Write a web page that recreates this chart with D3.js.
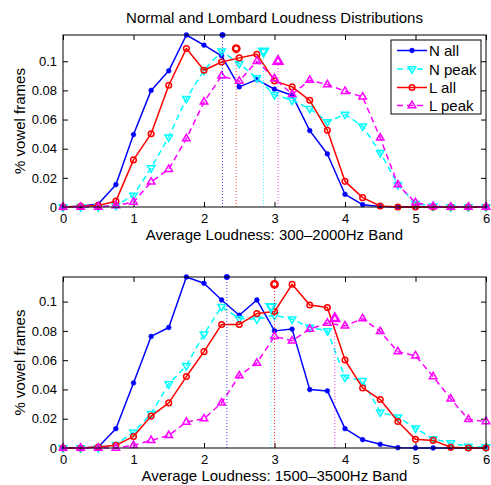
<!DOCTYPE html>
<html>
<head>
<meta charset="utf-8">
<script src="https://cdn.jsdelivr.net/npm/d3@7"></script>
<style>
  html, body { margin: 0; padding: 0; background: #fff; }
  svg { display: block; font-family: "Liberation Sans", Arial, Helvetica, sans-serif; }
</style>
</head>
<body>
<svg id="chart" width="491" height="485"></svg>
<script>
// ---------- data ----------
const loudness = [0, 0.25, 0.5, 0.75, 1, 1.25, 1.5, 1.75, 2, 2.25, 2.5, 2.75, 3, 3.25, 3.5, 3.75, 4, 4.25, 4.5, 4.75, 5, 5.25, 5.5, 5.75, 6];
const seriesNames = ["N all", "N peak", "L all", "L peak"];

// Top panel: 300-2000Hz band
const topNall  = [0, 0.0005, 0.002, 0.0153, 0.0497, 0.080, 0.0934, 0.118, 0.111, 0.1037, 0.0824, 0.0874, 0.0808, 0.0767, 0.0524, 0.0364, 0.0087, 0.0016, 0.0003, 0, 0, 0, 0, 0, 0];
const topNpeak = [0, 0, 0, 0.001, 0.008, 0.0268, 0.048, 0.0744, 0.0938, 0.1069, 0.0984, 0.0886, 0.0771, 0.0732, 0.0675, 0.0584, 0.0636, 0.0554, 0.0373, 0.0153, 0.0023, 0.0005, 0, 0, 0];
const topLall  = [0, 0.0005, 0.001, 0.004, 0.0323, 0.0503, 0.0835, 0.1087, 0.0938, 0.0995, 0.1023, 0.1048, 0.0865, 0.0824, 0.0732, 0.0526, 0.0176, 0.0064, 0.0007, 0, 0, 0, 0, 0, 0];
const topLpeak = [0, 0, 0, 0.001, 0.0034, 0.0172, 0.0259, 0.0469, 0.0721, 0.0899, 0.0863, 0.1, 0.0881, 0.0773, 0.087, 0.084, 0.0794, 0.0755, 0.0474, 0.0153, 0.003, 0.0005, 0, 0, 0];
const topMeans = [2.262, 2.845, 2.457, 3.05];

// Bottom panel: 1500-3500Hz band
const botNall  = [0, 0, 0.0007, 0.0132, 0.0444, 0.0762, 0.0823, 0.1168, 0.1125, 0.1011, 0.0907, 0.1011, 0.080, 0.0812, 0.0399, 0.039, 0.0132, 0.0057, 0.0025, 0.0002, 0, 0, 0, 0, 0];
const botNpeak = [0, 0, 0, 0.0023, 0.0109, 0.0234, 0.0438, 0.0562, 0.0778, 0.0966, 0.0884, 0.088, 0.0907, 0.088, 0.0823, 0.080, 0.0483, 0.046, 0.0245, 0.0211, 0.0136, 0.0063, 0.0034, 0.0011, 0.0007];
const botLall  = [0, 0, 0.0007, 0.0018, 0.0079, 0.0218, 0.0308, 0.0488, 0.0658, 0.0844, 0.0844, 0.0918, 0.0932, 0.1118, 0.0977, 0.0959, 0.0601, 0.041, 0.0331, 0.0181, 0.0059, 0.0052, 0.0005, 0, 0];
const botLpeak = [0, 0, 0, 0, 0.0018, 0.0052, 0.0086, 0.0177, 0.02, 0.0308, 0.0494, 0.058, 0.0762, 0.0732, 0.0812, 0.0853, 0.0834, 0.0884, 0.0796, 0.0658, 0.063, 0.0488, 0.0336, 0.0195, 0.0181];
const botMeans = [2.324, 2.95, 3.0, 3.855];

const xTicks = [0, 1, 2, 3, 4, 5, 6];
const yTicks = [0, 0.02, 0.04, 0.06, 0.08, 0.1];
const yTickLabels = ["0", "0.02", "0.04", "0.06", "0.08", "0.1"];
const titleText = "Normal and Lombard Loudness Distributions";
const xLabels = ["Average Loudness: 300\u20132000Hz Band", "Average Loudness: 1500\u20133500Hz Band"];
const yLabel = "% vowel frames";
const yMaxes = [0.118, 0.1168];

// ---------- styles ----------
const styles = [
  { color: "#0000ff", dash: null, marker: "dot" },
  { color: "#00ffff", dash: "6,4", marker: "down" },
  { color: "#ff0000", dash: null, marker: "circle" },
  { color: "#ff00ff", dash: "6,4", marker: "up" }
];

const svg = d3.select("#chart");
const L = 63, R = 486;
const panels = [
  { top: 35, bottom: 207, series: [topNall, topNpeak, topLall, topLpeak], means: topMeans, xlabel: xLabels[0], yMax: yMaxes[0], legend: true },
  { top: 277, bottom: 448, series: [botNall, botNpeak, botLall, botLpeak], means: botMeans, xlabel: xLabels[1], yMax: yMaxes[1], legend: false }
];

function drawMarker(g, type, cx, cy, color, sw, scale) {
  scale = scale || 1;
  if (type === "dot") {
    g.append("circle").attr("cx", cx).attr("cy", cy).attr("r", 2.4 * scale)
      .attr("fill", color).attr("stroke", color).attr("stroke-width", 0.5);
  } else if (type === "circle") {
    g.append("circle").attr("cx", cx).attr("cy", cy).attr("r", 2.8 * scale)
      .attr("fill", "none").attr("stroke", color).attr("stroke-width", sw);
  } else {
    const sym = d3.symbol().type(d3.symbolTriangle).size(24 * scale * scale);
    g.append("path").attr("d", sym())
      .attr("transform", `translate(${cx},${cy})` + (type === "down" ? " rotate(180)" : ""))
      .attr("fill", "none").attr("stroke", color).attr("stroke-width", sw)
      .attr("stroke-linejoin", "miter");
  }
}

svg.append("text").attr("x", (L + R) / 2).attr("y", 22.5)
  .attr("text-anchor", "middle").attr("font-size", 15).attr("fill", "#000").text(titleText);

panels.forEach((p) => {
  const x = d3.scaleLinear().domain([0, 6]).range([L, R]);
  const y = d3.scaleLinear().domain([0, p.yMax]).range([p.bottom, p.top]);
  const g = svg.append("g");

  // axes
  const axB = d3.axisBottom(x).tickValues(xTicks).tickFormat(d3.format("d")).tickSizeInner(-5).tickSizeOuter(0).tickPadding(6.8);
  const axT = d3.axisTop(x).tickValues(xTicks).tickFormat("").tickSizeInner(-5).tickSizeOuter(0);
  const axLft = d3.axisLeft(y).tickValues(yTicks).tickFormat((d, i) => yTickLabels[i]).tickSizeInner(-5).tickSizeOuter(0).tickPadding(6);
  const axRgt = d3.axisRight(y).tickValues(yTicks).tickFormat("").tickSizeInner(-5).tickSizeOuter(0);

  [[axB, `translate(0,${p.bottom})`], [axT, `translate(0,${p.top})`], [axLft, `translate(${L},0)`], [axRgt, `translate(${R},0)`]]
    .forEach(([ax, tr]) => {
      const a = g.append("g").attr("transform", tr).call(ax);
      a.select(".domain").remove();
      a.selectAll("line").attr("stroke", "#000");
      a.selectAll("text").attr("font-size", 13).attr("fill", "#000")
        .attr("font-family", "Liberation Sans, Arial, sans-serif");
    });

  // series lines
  const line = d3.line().x((d, i) => x(loudness[i])).y(d => y(d));
  p.series.forEach((vals, si) => {
    const st = styles[si];
    g.append("path").datum(vals).attr("d", line)
      .attr("fill", "none").attr("stroke", st.color).attr("stroke-width", 1.5)
      .attr("stroke-dasharray", st.dash).attr("stroke-linejoin", "round");
    const mg = g.append("g");
    vals.forEach((v, i) => drawMarker(mg, st.marker, x(loudness[i]), y(v), st.color, 1.5));
  });

  // mean lines + markers
  p.series.forEach((vals, si) => {
    const st = styles[si];
    const m = p.means[si];
    const h = d3.max(vals);
    g.append("line").attr("x1", x(m)).attr("x2", x(m)).attr("y1", y(0)).attr("y2", y(h))
      .attr("stroke", st.color).attr("stroke-width", 1).attr("stroke-dasharray", "1,2").attr("opacity", 0.75);
    drawMarker(g, st.marker, x(m), y(h), st.color, 2.4, 1.15);
  });

  // box
  g.append("rect").attr("x", L).attr("y", p.top).attr("width", R - L).attr("height", p.bottom - p.top)
    .attr("fill", "none").attr("stroke", "#000").attr("stroke-width", 1);

  // labels
  svg.append("text").attr("x", (L + R) / 2).attr("y", p.bottom + 32.8)
    .attr("text-anchor", "middle").attr("font-size", 15).attr("fill", "#000").text(p.xlabel);
  svg.append("text").attr("transform", `translate(24.5,${(p.top + p.bottom) / 2}) rotate(-90)`)
    .attr("text-anchor", "middle").attr("font-size", 15).attr("fill", "#000").text(yLabel);

  // legend
  if (p.legend) {
    const lg = svg.append("g");
    lg.append("rect").attr("x", 391).attr("y", 40).attr("width", 90).attr("height", 74)
      .attr("fill", "#fff").attr("stroke", "#000").attr("stroke-width", 1);
    const rows = [50.5, 69, 87.5, 105.5];
    seriesNames.forEach((name, si) => {
      const st = styles[si];
      lg.append("line").attr("x1", 397).attr("x2", 427).attr("y1", rows[si]).attr("y2", rows[si])
        .attr("stroke", st.color).attr("stroke-width", 1.5).attr("stroke-dasharray", st.dash);
      drawMarker(lg, st.marker, 412, rows[si], st.color, 1.5);
      lg.append("text").attr("x", 429).attr("y", rows[si] + 5.5).attr("font-size", 15).attr("fill", "#000").text(name);
    });
  }
});
</script>
</body>
</html>
